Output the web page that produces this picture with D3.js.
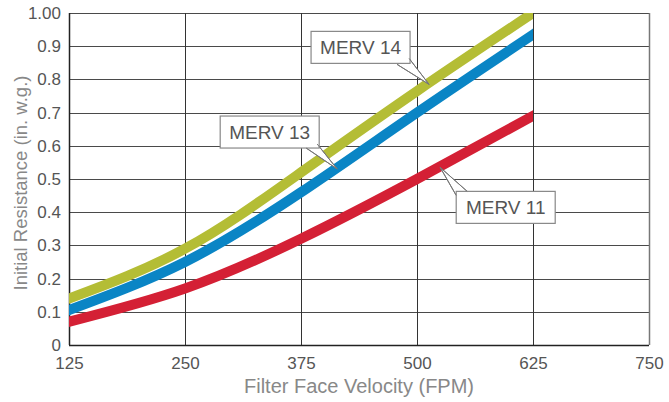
<!DOCTYPE html>
<html>
<head>
<meta charset="utf-8">
<script src="https://cdn.jsdelivr.net/npm/d3@7"></script>
<style>
  body { margin: 0; background: #fff; }
  svg text { font-family: "Liberation Sans", Arial, sans-serif; }
</style>
</head>
<body>
<svg id="chart" width="669" height="402"></svg>
<script>
var velocities = [125, 250, 375, 500, 625];
var xTicks = [125, 250, 375, 500, 625, 750];
var yTicks = [0, 0.1, 0.2, 0.3, 0.4, 0.5, 0.6, 0.7, 0.8, 0.9, 1.0];
var merv11 = [0.07, 0.17, 0.32, 0.50, 0.69];
var merv13 = [0.105, 0.25, 0.46, 0.70, 0.935];
var merv14 = [0.14, 0.29, 0.52, 0.765, 1.0];

var series = [
  { key: 'MERV 11', values: merv11, color: '#d42035' },
  { key: 'MERV 13', values: merv13, color: '#0a85c5' },
  { key: 'MERV 14', values: merv14, color: '#b4bd35' }
];

// callouts: tip on the curve (data units), box offset from tip (px)
var callouts = [
  { text: 'MERV 14', v: 513, r: 0.785, dx: -118, dy: -53, base: [[-32, -20], [-20, -26]] },
  { text: 'MERV 13', v: 414, r: 0.53, dx: -117, dy: -53, base: [[-31, -21], [-20, -25]] },
  { text: 'MERV 11', v: 525, r: 0.535, dx: 16, dy: 24, base: [[16, 28], [27, 24]] }
];

var svg = d3.select('#chart');
var margin = { top: 13, right: 20, bottom: 57, left: 69 };
var width = 669 - margin.left - margin.right;
var height = 402 - margin.top - margin.bottom;

var g = svg.append('g')
  .attr('transform', 'translate(' + margin.left + ',' + margin.top + ')');

var x = d3.scaleLinear().domain([125, 750]).range([0, width]);
var y = d3.scaleLinear().domain([0, 1]).range([height, 0]);

// grid
g.append('g').selectAll('line.h')
  .data(yTicks)
  .enter().append('line')
  .attr('x1', 0).attr('x2', width)
  .attr('y1', function(d) { return Math.round(y(d)) + 0.5; })
  .attr('y2', function(d) { return Math.round(y(d)) + 0.5; })
  .style('stroke', '#4a4a4a').style('stroke-width', 1);

g.append('g').selectAll('line.v')
  .data(xTicks)
  .enter().append('line')
  .attr('y1', 0).attr('y2', height)
  .attr('x1', function(d) { return Math.round(x(d)) + 0.5; })
  .attr('x2', function(d) { return Math.round(x(d)) + 0.5; })
  .style('stroke', function(d, i) { return i === xTicks.length - 1 ? '#777' : '#333'; })
  .style('stroke-width', function(d, i) { return i === xTicks.length - 1 ? 1.5 : 1; });

// axes labels
var xAxis = g.append('g')
  .attr('transform', 'translate(0,' + height + ')')
  .call(d3.axisBottom(x).tickValues(xTicks).tickSize(0).tickPadding(12).tickFormat(d3.format('d')));
xAxis.select('.domain').remove();
xAxis.selectAll('text')
  .style('font-size', '17px').style('fill', '#555');

var yAxis = g.append('g')
  .call(d3.axisLeft(y).tickValues(yTicks).tickSize(0).tickPadding(8)
    .tickFormat(function(d) { return d === 1 ? '1.00' : d === 0 ? '0' : d3.format('.1f')(d); }));
yAxis.select('.domain').remove();
yAxis.selectAll('text')
  .style('font-size', '17px').style('fill', '#555');

// axis lines
g.append('line').attr('x1', 0.5).attr('x2', 0.5).attr('y1', 0).attr('y2', height)
  .style('stroke', '#222').style('stroke-width', 1.5);
g.append('line').attr('x1', 0).attr('x2', width).attr('y1', height + 0.5).attr('y2', height + 0.5)
  .style('stroke', '#222').style('stroke-width', 1.5);

// titles
svg.append('text')
  .attr('x', margin.left + width / 2).attr('y', 393)
  .attr('text-anchor', 'middle')
  .style('font-size', '20px').style('fill', '#888')
  .text('Filter Face Velocity (FPM)');

svg.append('text')
  .attr('transform', 'translate(27,' + (margin.top + height / 2 + 4) + ') rotate(-90)')
  .attr('text-anchor', 'middle')
  .style('font-size', '18.5px').style('fill', '#888')
  .text('Initial Resistance (in. w.g.)');

// curves
svg.append('defs').append('clipPath').attr('id', 'plotclip')
  .append('rect')
  .attr('x', x(125)).attr('y', 0)
  .attr('width', x(625) - x(125)).attr('height', height);

var line = d3.line()
  .x(function(d) { return x(d[0]); })
  .y(function(d) { return y(d[1]); })
  .curve(d3.curveNatural);

g.append('g').attr('clip-path', 'url(#plotclip)')
  .selectAll('path')
  .data(series)
  .enter().append('path')
  .attr('d', function(s) {
    return line(velocities.map(function(v, i) { return [v, s.values[i]]; }));
  })
  .style('fill', 'none')
  .style('stroke', function(s) { return s.color; })
  .style('stroke-width', 10)
  .style('stroke-linecap', 'square');

// callouts
var boxW = 99, boxH = 32;
var co = g.selectAll('.callout')
  .data(callouts)
  .enter().append('g')
  .attr('class', 'callout')
  .attr('transform', function(d) { return 'translate(' + x(d.v) + ',' + y(d.r) + ')'; });

co.append('path')
  .attr('d', function(d) {
    return 'M' + d.base[0][0] + ',' + d.base[0][1] + 'L0,0L' + d.base[1][0] + ',' + d.base[1][1] + 'Z';
  })
  .style('fill', '#fff').style('stroke', '#777').style('stroke-width', 1);

co.append('rect')
  .attr('x', function(d) { return d.dx; })
  .attr('y', function(d) { return d.dy; })
  .attr('width', boxW).attr('height', boxH)
  .style('fill', '#fff').style('stroke', '#888').style('stroke-width', 1.2);

co.append('path')
  .attr('d', function(d) {
    return 'M' + d.base[0][0] + ',' + d.base[0][1] + 'L0,0L' + d.base[1][0] + ',' + d.base[1][1];
  })
  .style('fill', 'none').style('stroke', '#777').style('stroke-width', 1);

co.append('text')
  .attr('x', function(d) { return d.dx + boxW / 2; })
  .attr('y', function(d) { return d.dy + 23; })
  .attr('text-anchor', 'middle')
  .style('font-size', '19px').style('fill', '#555')
  .text(function(d) { return d.text; });
</script>
</body>
</html>
